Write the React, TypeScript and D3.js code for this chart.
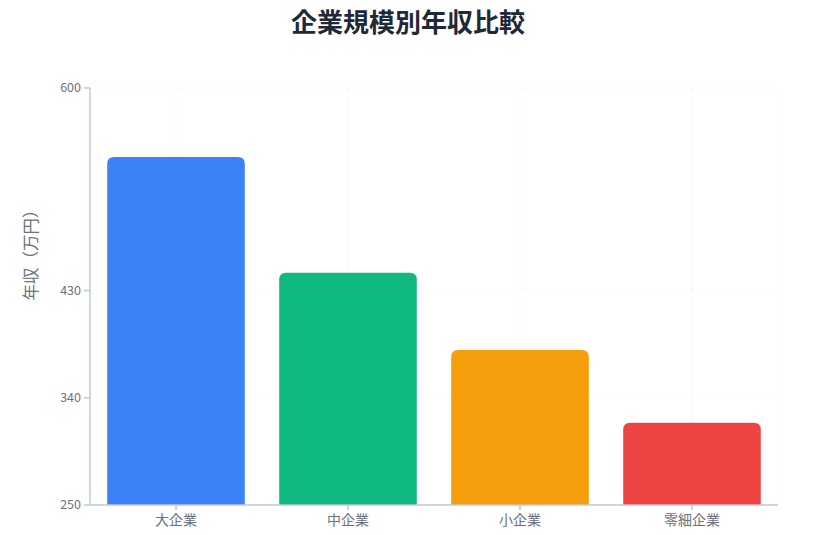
import React from "react";
import * as d3 from "d3";

const categories = ["大企業", "中企業", "小企業", "零細企業"];
const values = [542, 445, 380, 319];
const colors = ["#3b82f6", "#10b981", "#f59e0b", "#ef4444"];
const yTicks = [250, 340, 430, 600];
const title = "企業規模別年収比較";
const yLabel = "年収（万円）";

const W = 823;
const H = 535;
const margin = { top: 88, right: 45, bottom: 30, left: 90 };

function topRoundedRect(x: number, y: number, w: number, h: number, r: number) {
  const rr = Math.min(r, h, w / 2);
  return `M${x},${y + h}V${y + rr}Q${x},${y} ${x + rr},${y}H${x + w - rr}Q${x + w},${y} ${x + w},${y + rr}V${y + h}Z`;
}

export default function App() {
  const x0 = margin.left;
  const x1 = W - margin.right;
  const y0 = H - margin.bottom;
  const y1 = margin.top;
  const x = d3.scaleBand<string>().domain(categories).range([x0, x1]).paddingInner(0.2).paddingOuter(0.1);
  const y = d3.scaleLinear().domain([250, 600]).range([y0, y1]);
  const font = "'Noto Sans CJK JP', 'Noto Sans', sans-serif";
  const textColor = "#6b7280";
  const axisColor = "#c3c8d0";
  const gridColor = "#f5f6f7";
  return (
    <svg width={W} height={H} style={{ position: "absolute", left: 0, top: 0, fontFamily: font }}>
      <rect width={W} height={H} fill="#ffffff" />
      <text x={408} y={32} textAnchor="middle" fontSize={26} fontWeight={700} fill="#1f2937">{title}</text>
      {yTicks.map((t) => (
        <line key={"g" + t} x1={x0} x2={x1} y1={y(t)} y2={y(t)} stroke={gridColor} strokeDasharray="4 4" />
      ))}
      {categories.map((c) => (
        <line key={"v" + c} x1={x(c)! + x.bandwidth() / 2} x2={x(c)! + x.bandwidth() / 2} y1={y1} y2={y0} stroke={gridColor} strokeDasharray="4 4" />
      ))}
      <line x1={x1} x2={x1} y1={y1} y2={y0} stroke={gridColor} strokeDasharray="4 4" />
      {categories.map((c, i) => (
        <path key={c} d={topRoundedRect(x(c)!, y(values[i]), x.bandwidth(), y0 - y(values[i]), 7)} fill={colors[i]} />
      ))}
      <line x1={x0} x2={x0} y1={y1} y2={y0} stroke={axisColor} strokeWidth={1.5} />
      <line x1={x0} x2={x1} y1={y0} y2={y0} stroke={axisColor} strokeWidth={1.5} />
      {yTicks.map((t) => (
        <g key={"t" + t}>
          <line x1={x0 - 6} x2={x0} y1={y(t)} y2={y(t)} stroke={axisColor} strokeWidth={1.5} />
          <text x={x0 - 9} y={y(t)} dy="0.35em" textAnchor="end" fontSize={12.5} fill={textColor}>{t}</text>
        </g>
      ))}
      {categories.map((c) => (
        <g key={"x" + c}>
          <line x1={x(c)! + x.bandwidth() / 2} x2={x(c)! + x.bandwidth() / 2} y1={y0} y2={y0 + 5} stroke={axisColor} strokeWidth={1.5} />
          <text x={x(c)! + x.bandwidth() / 2} y={y0 + 20} textAnchor="middle" fontSize={14} fill={textColor}>{c}</text>
        </g>
      ))}
      <text transform={`translate(37,251) rotate(-90)`} textAnchor="middle" fontSize={16.5} fill="#6b7280">{yLabel}</text>
    </svg>
  );
}
